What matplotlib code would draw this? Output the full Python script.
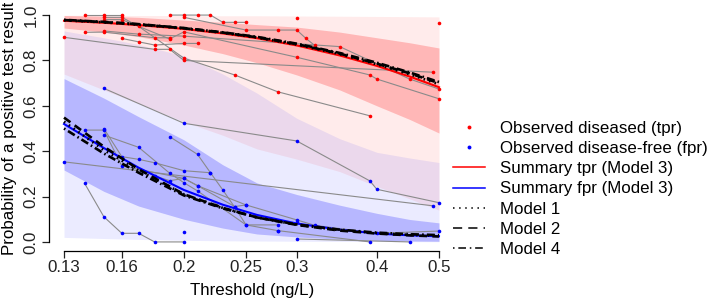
import matplotlib
matplotlib.use("Agg")
import matplotlib.pyplot as plt
from matplotlib.lines import Line2D
from matplotlib.ticker import NullLocator
import numpy as np

plt.rcParams['font.family'] = ['Liberation Sans', 'DejaVu Sans']

# ---------------- data ----------------
grid = [0.13, 0.15, 0.17, 0.2, 0.23, 0.26, 0.3, 0.35, 0.4, 0.45, 0.5]

# summary curves
tpr_model3 = [0.975, 0.966, 0.956, 0.939, 0.919, 0.898, 0.866, 0.822, 0.776, 0.729, 0.682]
fpr_model3 = [0.520, 0.414, 0.327, 0.229, 0.164, 0.119, 0.081, 0.054, 0.037, 0.029, 0.025]
tpr_model1 = [0.977, 0.968, 0.958, 0.941, 0.922, 0.901, 0.870, 0.828, 0.783, 0.739, 0.695]
tpr_model2 = [0.978, 0.969, 0.959, 0.942, 0.923, 0.902, 0.872, 0.830, 0.786, 0.743, 0.700]
tpr_model4 = [0.979, 0.970, 0.960, 0.943, 0.924, 0.904, 0.874, 0.833, 0.790, 0.747, 0.705]
fpr_model1 = [0.530, 0.405, 0.315, 0.210, 0.150, 0.108, 0.076, 0.052, 0.039, 0.031, 0.027]
fpr_model2 = [0.548, 0.420, 0.320, 0.210, 0.150, 0.108, 0.075, 0.050, 0.037, 0.029, 0.024]
fpr_model4 = [0.500, 0.390, 0.305, 0.205, 0.148, 0.108, 0.077, 0.054, 0.041, 0.034, 0.030]

# bands (inner = confidence, outer = prediction)
tpr_inner_lo = [0.943, 0.925, 0.905, 0.868, 0.830, 0.790, 0.736, 0.670, 0.600, 0.540, 0.480]
tpr_inner_hi = [0.998, 0.995, 0.990, 0.978, 0.968, 0.958, 0.947, 0.925, 0.900, 0.878, 0.855]
tpr_outer_lo = [0.740, 0.670, 0.610, 0.530, 0.470, 0.410, 0.365, 0.310, 0.245, 0.190, 0.140]
tpr_outer_hi = [0.999, 0.999, 0.998, 0.998, 0.997, 0.997, 0.996, 0.995, 0.994, 0.993, 0.992]
fpr_inner_lo = [0.317, 0.223, 0.158, 0.100, 0.061, 0.035, 0.022, 0.012, 0.007, 0.004, 0.003]
fpr_inner_hi = [0.720, 0.634, 0.552, 0.450, 0.340, 0.260, 0.209, 0.162, 0.126, 0.099, 0.084]
fpr_outer_lo = [0.020, 0.015, 0.011, 0.007, 0.005, 0.004, 0.003, 0.002, 0.002, 0.001, 0.001]
fpr_outer_hi = [0.930, 0.900, 0.870, 0.820, 0.740, 0.656, 0.545, 0.455, 0.395, 0.370, 0.350]

# observed study data: (thresholds, values)
tpr_studies = [
    ([0.13, 0.18, 0.19, 0.2, 0.49], [0.902, 0.849, 0.849, 0.80, 0.748]),
    ([0.14, 0.15, 0.16], [1.0, 1.0, 1.0]),
    ([0.15, 0.16, 0.17, 0.2, 0.24, 0.28, 0.39], [0.99, 0.99, 0.95, 0.81, 0.736, 0.662, 0.556]),
    ([0.14, 0.15, 0.18, 0.19], [0.924, 0.925, 0.90, 0.90]),
    ([0.15, 0.17, 0.2, 0.35, 0.45, 0.5], [0.93, 0.916, 0.907, 0.861, 0.718, 0.674]),
    ([0.15, 0.16, 0.19, 0.2, 0.3, 0.39, 0.4, 0.5], [0.98, 0.98, 0.895, 0.926, 0.814, 0.736, 0.718, 0.631]),
    ([0.16, 0.17, 0.18, 0.2, 0.21], [0.897, 0.882, 0.868, 0.875, 0.875]),
    ([0.19, 0.2, 0.21, 0.22, 0.23, 0.24, 0.25], [1.0, 1.0, 1.0, 1.0, 0.968, 0.968, 0.968]),
    ([0.2, 0.25, 0.28, 0.3, 0.31, 0.32], [0.99, 0.934, 0.934, 0.934, 0.897, 0.866]),
    ([0.3], [0.985]),
    ([0.5], [0.963]),
]
fpr_studies = [
    ([0.15, 0.2, 0.3, 0.39, 0.4, 0.5], [0.677, 0.523, 0.445, 0.269, 0.232, 0.173]),
    ([0.13, 0.49], [0.353, 0.159]),
    ([0.14, 0.15, 0.16, 0.17, 0.18, 0.2], [0.258, 0.111, 0.038, 0.038, 0.0, 0.0]),
    ([0.14, 0.15, 0.16, 0.2, 0.21, 0.24, 0.25], [0.493, 0.493, 0.335, 0.28, 0.248, 0.156, 0.163]),
    ([0.15, 0.16, 0.17, 0.18, 0.2, 0.22], [0.50, 0.376, 0.364, 0.349, 0.314, 0.305]),
    ([0.15, 0.17, 0.19, 0.2, 0.21, 0.25, 0.28], [0.471, 0.417, 0.303, 0.261, 0.225, 0.075, 0.075]),
    ([0.19, 0.21, 0.22, 0.23, 0.24, 0.25, 0.28], [0.464, 0.386, 0.305, 0.229, 0.153, 0.075, 0.050]),
    ([0.18, 0.19, 0.2, 0.21, 0.25, 0.3, 0.32, 0.4, 0.5], [0.291, 0.27, 0.28, 0.248, 0.163, 0.097, 0.073, 0.038, 0.048]),
    ([0.28, 0.39], [0.050, 0.0]),
    ([0.3, 0.45], [0.013, 0.0]),
    ([0.2], [0.045]),
    ([0.3], [0.088]),
]

xticks = [0.13, 0.16, 0.2, 0.25, 0.3, 0.4, 0.5]
xticklabels = ["0.13", "0.16", "0.2", "0.25", "0.3", "0.4", "0.5"]
yticks = [0.0, 0.2, 0.4, 0.6, 0.8, 1.0]
yticklabels = ["0.0", "0.2", "0.4", "0.6", "0.8", "1.0"]

legend_labels = ["Observed diseased (tpr)", "Observed disease-free (fpr)",
                 "Summary tpr (Model 3)", "Summary fpr (Model 3)",
                 "Model 1", "Model 2", "Model 4"]

# ---------------- plot ----------------
fig = plt.figure(figsize=(7.09, 3.05), dpi=100)
ax = fig.add_axes([49 / 709, 54 / 305, 405 / 709, 245 / 305])
ax.set_xscale('log')
lo, hi = np.log(0.13), np.log(0.5)
ext = 0.04 * (hi - lo)
ax.set_xlim(np.exp(lo - ext), np.exp(hi + ext))
ax.set_ylim(-0.04, 1.04)

a_out, a_in = 0.08, 0.22
ax.fill_between(grid, tpr_outer_lo, tpr_outer_hi, color='red', alpha=a_out, lw=0)
ax.fill_between(grid, fpr_outer_lo, fpr_outer_hi, color='blue', alpha=a_out, lw=0)
ax.fill_between(grid, tpr_inner_lo, tpr_inner_hi, color='red', alpha=a_in, lw=0)
ax.fill_between(grid, fpr_inner_lo, fpr_inner_hi, color='blue', alpha=a_in, lw=0)

for th, v in tpr_studies:
    ax.plot(th, v, color='#8a8a8a', lw=0.8, zorder=3)
for th, v in fpr_studies:
    ax.plot(th, v, color='#8a8a8a', lw=0.8, zorder=3)
for th, v in tpr_studies:
    ax.plot(th, v, ls='none', marker='o', ms=2.6, color='red', mec='none', zorder=4)
for th, v in fpr_studies:
    ax.plot(th, v, ls='none', marker='o', ms=2.6, color='blue', mec='none', zorder=4)

ax.plot(grid, tpr_model3, color='red', lw=1.5, zorder=5)
ax.plot(grid, fpr_model3, color='blue', lw=1.5, zorder=5)
dot = (0.6, 1.6)
dash = (3.0, 2.0)
dashdot = (0.6, 1.2, 3.0, 1.2)
for vals, d in [(tpr_model1, dot), (tpr_model2, dash), (tpr_model4, dashdot),
                (fpr_model1, dot), (fpr_model2, dash), (fpr_model4, dashdot)]:
    ax.plot(grid, vals, color='black', lw=1.9, dashes=d, zorder=6)

for s in ['top', 'right']:
    ax.spines[s].set_visible(False)
ax.spines['left'].set_bounds(0, 1)
ax.spines['bottom'].set_bounds(0.13, 0.5)
ax.spines['left'].set_linewidth(0.9)
ax.spines['bottom'].set_linewidth(0.9)
ax.set_xticks(xticks)
ax.set_xticklabels(xticklabels)
ax.xaxis.set_minor_locator(NullLocator())
ax.set_yticks(yticks)
ax.set_yticklabels(yticklabels)
ax.tick_params(direction='out', length=5, width=0.9, labelsize=12.2, colors='#222222')
ax.tick_params(axis='x', pad=1.5)
ax.tick_params(axis='y', pad=2.5)
for lbl in ax.get_yticklabels():
    lbl.set_rotation(90)
    lbl.set_va('center')

fig.text(10 / 709, 1 - 128 / 305, "Probability of a positive test result",
         rotation=90, ha='center', va='center', fontsize=12.2)
fig.text(252 / 709, 1 - 291 / 305, "Threshold (ng/L)", ha='center', va='center', fontsize=12.2)

handles = [
    Line2D([], [], ls='none', marker='o', ms=2.8, color='red', mec='none'),
    Line2D([], [], ls='none', marker='o', ms=2.8, color='blue', mec='none'),
    Line2D([], [], color='red', lw=1.1),
    Line2D([], [], color='blue', lw=1.1),
    Line2D([], [], color='black', lw=1.1, dashes=(1, 3)),
    Line2D([], [], color='black', lw=1.1, dashes=(6, 4)),
    Line2D([], [], color='black', lw=1.1, dashes=(1, 2.5, 5, 2.5)),
]
fig.legend(handles, legend_labels, loc='center left',
           bbox_to_anchor=(453 / 709, 1 - 189 / 305), frameon=False, fontsize=12.2,
           handlelength=1.9, handletextpad=0.9, labelspacing=0.31,
           borderpad=0, borderaxespad=0, numpoints=1)

fig.savefig("out.png", dpi=100)
